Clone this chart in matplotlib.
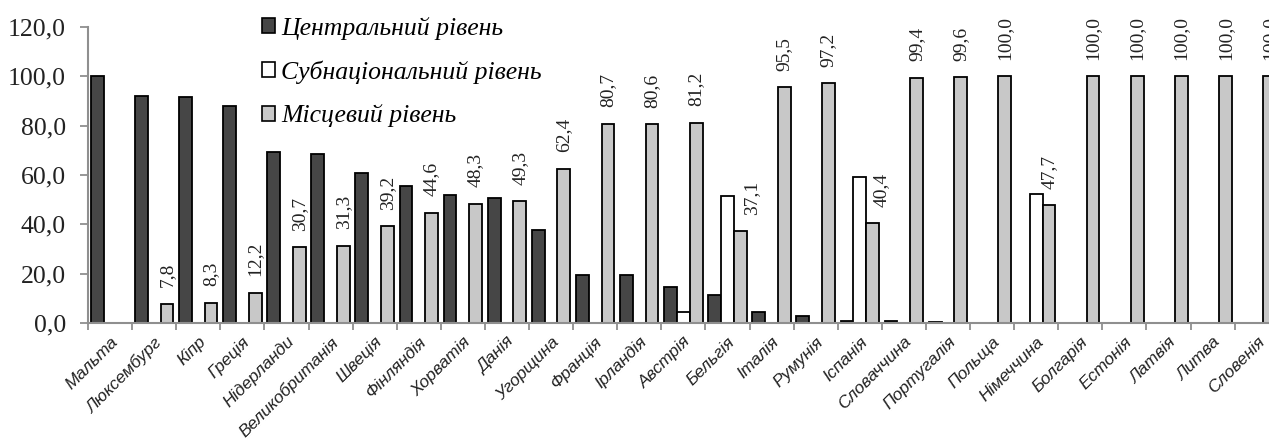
import numpy as np
import matplotlib
matplotlib.use("Agg")
import matplotlib.pyplot as plt
from matplotlib.patches import Patch

# Data
countries = [
    "Мальта", "Люксембург", "Кіпр", "Греція", "Нідерланди", "Великобританія",
    "Швеція", "Фінляндія", "Хорватія", "Данія", "Угорщина", "Франція",
    "Ірландія", "Австрія", "Бельгія", "Італія", "Румунія", "Іспанія",
    "Словаччина", "Португалія", "Польща", "Німеччина", "Болгарія", "Естонія",
    "Латвія", "Литва", "Словенія",
]
central = [100.0, 92.2, 91.7, 88.0, 69.5, 68.7, 60.9, 55.5, 51.7, 50.6, 37.8, 19.3,
           19.5, 14.6, 11.5, 4.6, 2.8, 0.8, 0.7, 0.4, 0.0, 0.0, 0.0, 0.0,
           0.0, 0.0, 0.0]
subnational = [0.0, 0.0, 0.0, 0.0, 0.0, 0.0, 0.0, 0.0, 0.0, 0.0, 0.0, 0.0,
               0.0, 4.6, 51.6, 0.0, 0.0, 59.0, 0.0, 0.0, 0.0, 52.3, 0.0, 0.0,
               0.0, 0.0, 0.0]
local = [0.0, 7.8, 8.3, 12.2, 30.7, 31.3, 39.2, 44.6, 48.3, 49.3, 62.4, 80.7,
         80.6, 81.2, 37.1, 95.5, 97.2, 40.4, 99.4, 99.6, 100.0, 47.7, 100.0, 100.0,
         100.0, 100.0, 100.0]
series_names = ["Центральний рівень", "Субнаціональний рівень", "Місцевий рівень"]

c_dark = "#464646"
c_white = "#ffffff"
c_light = "#c8c8c8"
axis_grey = "#8f8f8f"

W, H = 1269, 442
fig = plt.figure(figsize=(W / 100, H / 100), dpi=100)
# axes placed in pixel terms; the last category is cut by the right edge
x0, y0, x1, y1 = 88, 323, 88 + 27 * 44.1, 27
ax = fig.add_axes([x0 / W, (H - y0) / H, (x1 - x0) / W, (y0 - y1) / H])

x = np.arange(len(countries))
bw = 0.29
ax.bar(x - bw, central, bw, color=c_dark, edgecolor="black", linewidth=1.3, zorder=3)
sub_draw = [v if v > 0 else np.nan for v in subnational]
ax.bar(x, sub_draw, bw, color=c_white, edgecolor="black", linewidth=1.3, zorder=3)
loc_draw = [v if v > 0 else np.nan for v in local]
ax.bar(x + bw, loc_draw, bw, color=c_light, edgecolor="black", linewidth=1.3, zorder=3)

# rotated value labels above the local-level bars
# (labels next to a taller white bar are nudged right, as in the original)
nudge = {"Бельгія": 8, "Іспанія": 6}
for name, xi, v in zip(countries, x, local):
    if v > 0:
        ax.annotate(f"{v:.1f}".replace(".", ","), (xi + bw, v),
                    xytext=(nudge.get(name, 0), 12), textcoords="offset points",
                    rotation=90, ha="center", va="bottom",
                    family="Liberation Serif", fontsize=14, color="#222222",
                    annotation_clip=False)

ax.set_xlim(-0.5, len(countries) - 0.5)
ax.set_ylim(0, 120)
ax.set_yticks(np.arange(0, 121, 20))
ax.set_yticklabels([f"{v:.1f}".replace(".", ",") for v in np.arange(0, 121, 20)],
                   family="Liberation Serif", fontsize=18.5, color="#222222")

ax.set_xticks(x)
ax.set_xticklabels(countries, rotation=45, ha="right", rotation_mode="anchor",
                   family="Liberation Sans", style="italic", fontsize=12.5, color="#222222")
ax.tick_params(axis="x", which="major", length=0, pad=8)
ax.set_xticks(np.arange(-0.5, len(countries), 1), minor=True)
ax.tick_params(axis="x", which="minor", length=5, width=1.3, color=axis_grey)
ax.tick_params(axis="y", length=6, width=1.3, color=axis_grey, pad=10)

for s in ["top", "right"]:
    ax.spines[s].set_visible(False)
for s in ["left", "bottom"]:
    ax.spines[s].set_color(axis_grey)
    ax.spines[s].set_linewidth(1.5)
    ax.spines[s].set_zorder(4)

handles = [Patch(facecolor=c, edgecolor="black", linewidth=1.2) for c in (c_dark, c_white, c_light)]
fig.legend(handles, series_names, loc="upper left",
           bbox_to_anchor=(249 / W, 1 - 4 / H), frameon=False,
           prop={"family": "Liberation Serif", "style": "italic", "size": 18.5},
           handlelength=0.5, handleheight=0.5, handletextpad=0.25,
           labelspacing=0.8, borderpad=0)

fig.savefig("out.png", dpi=100)
